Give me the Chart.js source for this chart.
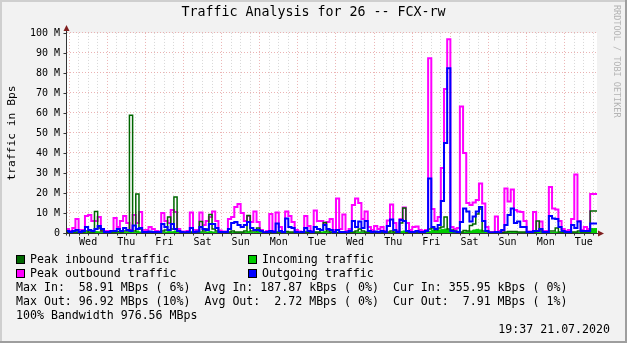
<!DOCTYPE html>
<html>
<head>
<meta charset="utf-8">
<script src="https://cdn.jsdelivr.net/npm/chart.js@4.4.0/dist/chart.umd.min.js"></script>
<style>
html,body{margin:0;padding:0;background:#f2f2f2;}
#wrap{position:relative;width:627px;height:343px;overflow:hidden;}
#wrap canvas{position:absolute;left:0;top:0;}
.t{position:absolute;font-family:'DejaVu Sans Mono',monospace;font-size:11.6px;line-height:14px;white-space:pre;color:#000;}
.sw{position:absolute;width:7px;height:7px;border:1px solid #000;}
.wm{position:absolute;left:612px;top:5px;writing-mode:vertical-rl;font-family:'DejaVu Sans Mono',monospace;font-size:8.5px;line-height:10px;color:#b4b4b4;white-space:pre;}
</style>
</head>
<body>
<div id="wrap">
<canvas id="c" width="627" height="343"></canvas>
<div class="wm">RRDTOOL / TOBI OETIKER</div>
<div class="sw" style="left:16px;top:255px;background:#006600"></div>
<div class="t" style="left:30px;top:252px">Peak inbound traffic</div>
<div class="sw" style="left:248px;top:255px;background:#00cc00"></div>
<div class="t" style="left:262px;top:252px">Incoming traffic</div>
<div class="sw" style="left:16px;top:269px;background:#ff00ff"></div>
<div class="t" style="left:30px;top:266px">Peak outbound traffic</div>
<div class="sw" style="left:248px;top:269px;background:#0000ff"></div>
<div class="t" style="left:262px;top:266px">Outgoing traffic</div>
<div class="t" style="left:16px;top:280px">Max In:  58.91 MBps ( 6%)  Avg In: 187.87 kBps ( 0%)  Cur In: 355.95 kBps ( 0%)</div>
<div class="t" style="left:16px;top:294px">Max Out: 96.92 MBps (10%)  Avg Out:  2.72 MBps ( 0%)  Cur Out:  7.91 MBps ( 1%)</div>
<div class="t" style="left:16px;top:308px">100% Bandwidth 976.56 MBps</div>
<div class="t" style="right:17px;top:322px">19:37 21.07.2020</div>
</div>
<script>
// ---- data (hours counted from the first Wednesday 00:00; 2-hour bins) ----
const FIRST_BIN_HOUR = -2;
const BIN_HOURS = 2;
const X_MIN_HOUR = -1.3;
const X_MAX_HOUR = 332.3;
const xDayLabels = ['Wed','Thu','Fri','Sat','Sun','Mon','Tue','Wed','Thu','Fri','Sat','Sun','Mon','Tue'];
const yTickLabels = ['0','10 M','20 M','30 M','40 M','50 M','60 M','70 M','80 M','90 M','100 M'];

// Peak outbound traffic (M)
const peakOut = [7.5,
  2,1,2.5,7,1.5,1.5,8.5,9,6,6,8,1,
  1,1,1,7.5,3,6,8.5,5,1.5,9,5,10.5,
  1.5,1.5,3,2,1,0.8,10,6,5,11.5,10.5,2,
  0.8,0.8,1,10.3,1.5,1.5,10.3,4,6,8,10.8,6,
  1.3,0.8,0.8,7,8,13,14.5,10,6,8.5,5.5,10.8,
  5.5,1.5,0.5,1,9.5,1,10.3,3,0.5,10.7,8.5,5.5,
  1.5,0.8,0.5,8.5,3.5,1,11.3,6,6,5,5.5,7,
  1.5,17.3,2,9.2,1,2,14,17.3,15,7,10.7,3,
  1.5,3.5,2,3,1,6.2,14.3,5,1,7,12.8,5,
  1.5,3,3.2,1.5,1,1.5,87.3,12,6,8,32.5,72,
  96.9,3,2,2.5,63.2,40,15,14,15.3,16.5,24.8,14.7,
  3,0.5,0.5,8.2,1,1,22.3,15.8,21.8,11.5,10.7,10.5,
  6,0.7,0.7,10.5,1,5.7,1,1,23,12.3,11.8,6,
  2,1,1.5,7,29.3,6,1.5,3,2,19.5];

// Outgoing traffic (M)
const avgOut = [2.5,
  1,0.5,1,1.5,0.5,1,3,1.5,1,2,3.5,2,
  0.5,0.5,1,1,2,1,2.5,1.5,1,3.7,2,2.5,
  0.5,0.5,0.8,0.5,0.5,0.5,4.5,3,1.5,4.5,2,1,
  0.5,0.3,0.5,2.5,0.5,0.8,3,2,1.5,4.5,4.5,2.5,
  0.5,0.5,0.5,2,5,5.5,4,3,4,5.5,2.5,1.5,
  1.5,1,0.3,0.5,1,0.5,4.8,1,0.5,7.3,3,2.5,
  0.5,0.3,0.5,2.5,1,0.5,3,2,1.5,4,2,1.5,
  0.5,1.5,0.5,0.5,0.3,1,6,3,5.8,2.5,6,1,
  0.5,0.8,0.5,1,0.5,3.5,6.8,1.5,0.5,6.5,6,1,
  0.5,0.5,1,0.5,0.5,1,27.3,3,2,4,16,45,
  82.3,1,0.8,0.5,5.5,12.3,10.7,5.7,8.2,10.7,13,6,
  1,0.3,0.3,0.5,0.3,1.5,4,9,12.3,5,5.7,3,
  3,0.5,0.5,1,1,2,0.5,0.5,8.5,7.3,7,3,
  1,0.5,0.5,4,2.5,5.7,1,1,1,4.8];

// Peak inbound traffic (M)
const peakIn = [0.5,
  0.3,0.3,0.5,0.5,0.3,0.5,1,0.5,0.5,10.7,2.5,1,
  0.3,0.3,0.5,0.5,0.8,0.5,1,1,58.9,1,19.5,2,
  0.3,0.3,0.5,0.3,0.3,0.5,1,1.5,8,2,18,1,
  0.3,0.3,0.3,0.5,0.3,0.5,5.7,1,2,9.3,2,1,
  0.5,0.3,0.3,0.5,1,0.5,0.5,0.5,1,8.7,1,1,
  2.5,1,0.3,0.3,0.3,0.3,0.5,0.5,0.3,0.8,0.5,0.5,
  0.3,0.3,0.3,0.5,0.3,0.3,0.5,0.5,1.5,5.2,1,0.5,
  0.3,0.3,0.3,0.3,0.3,0.5,0.5,1,2,1,0.5,0.5,
  0.5,0.3,0.3,0.5,0.3,0.5,1,0.5,0.3,5,12.5,0.5,
  0.5,0.5,0.5,0.5,0.3,1,2,2.5,1.5,2.5,3,8,
  2,1.5,1,0.5,0.5,1.3,1,3.8,4.5,9.5,12,1,
  1,0.3,0.3,0.3,0.3,0.3,0.5,0.8,0.8,0.8,0.5,0.5,
  0.5,0.3,0.3,0.5,6,1,0.5,0.3,1,1,2.5,0.5,
  0.5,0.3,0.3,0.5,0.5,1,0.5,0.5,0.5,11];

// Incoming traffic (M)
const avgIn = [0.2,
  0.1,0.1,0.2,0.2,0.1,0.2,0.3,0.2,0.2,0.8,0.6,0.3,
  0.1,0.1,0.2,0.2,0.3,0.2,0.3,0.3,1.2,0.3,1,0.5,
  0.1,0.1,0.2,0.1,0.1,0.2,0.3,0.5,0.8,0.6,1,0.3,
  0.1,0.1,0.1,0.2,0.1,0.2,0.6,0.3,0.5,0.8,0.5,0.3,
  0.2,0.1,0.1,0.2,0.3,0.2,0.2,0.2,0.3,0.8,0.3,0.3,
  0.8,0.3,0.1,0.1,0.1,0.1,0.2,0.2,0.1,0.3,0.2,0.2,
  0.1,0.1,0.1,0.2,0.1,0.1,0.2,0.2,0.5,0.8,0.3,0.2,
  0.1,0.1,0.1,0.1,0.1,0.2,0.2,0.3,0.5,0.3,0.2,0.2,
  0.2,0.1,0.1,0.2,0.1,0.2,0.3,0.2,0.1,0.8,1,0.2,
  0.2,0.2,0.2,0.2,0.1,0.3,0.8,1.5,1,1.5,1.8,2,
  1.5,1,0.8,0.3,0.3,0.5,0.5,1,1.5,1.8,1.5,0.5,
  0.3,0.1,0.1,0.1,0.1,0.1,0.2,0.3,0.3,0.3,0.2,0.2,
  0.2,0.1,0.1,0.2,0.8,0.3,0.2,0.1,0.3,0.3,0.5,0.2,
  0.2,0.1,0.1,0.2,0.2,0.3,0.2,0.2,0.3,2.2];

function series(vals){
  const pts = vals.map((v,i)=>({x: FIRST_BIN_HOUR + i*BIN_HOURS, y: v}));
  pts.push({x: X_MAX_HOUR, y: vals[vals.length-1]});
  return pts;
}

const FONT = "'DejaVu Sans Mono', monospace";
const MINOR = 'rgba(205,205,205,0.8)';
const MAJOR = 'rgba(230,160,160,0.8)';
const clipLR = {left:0, right:0, top:false, bottom:false};

const rrdFrame = {
  id: 'rrdFrame',
  beforeDraw(chart){
    const {ctx, chartArea: a, width: w, height: h} = chart;
    ctx.save();
    ctx.fillStyle = '#f2f2f2'; ctx.fillRect(0,0,w,h);
    ctx.fillStyle = '#cfcfcf'; ctx.fillRect(0,0,w,2); ctx.fillRect(0,0,2,h);
    ctx.fillStyle = '#9e9e9e'; ctx.fillRect(w-2,0,2,h); ctx.fillRect(0,h-2,w,2);
    ctx.fillStyle = '#ffffff'; ctx.fillRect(a.left, a.top, a.right-a.left, a.bottom-a.top);
    ctx.restore();
  },
  afterDatasetsDraw(chart){
    const {ctx, chartArea: a, scales} = chart;
    const ax = Math.round(a.left) - 0.5, ay = Math.round(a.bottom) + 0.5;
    ctx.save();
    ctx.strokeStyle = '#333333'; ctx.lineWidth = 1;
    ctx.beginPath();
    scales.y.ticks.forEach(t=>{
      const py = Math.round(scales.y.getPixelForValue(t.value)) + 0.5;
      const len = (t.value % 10 === 0) ? 3 : 2;
      ctx.moveTo(ax-len, py); ctx.lineTo(ax, py);
    });
    scales.x.ticks.forEach(t=>{
      const px = Math.round(scales.x.getPixelForValue(t.value)) + 0.5;
      const len = (t.value % 24 === 0) ? 3 : 2;
      ctx.moveTo(px, ay); ctx.lineTo(px, ay+len);
    });
    ctx.stroke();
    ctx.beginPath();
    ctx.moveTo(ax, ay+2); ctx.lineTo(ax, a.top-5);
    ctx.moveTo(ax-3, ay); ctx.lineTo(a.right+2, ay);
    ctx.stroke();
    ctx.fillStyle = '#801f1f';
    ctx.beginPath();
    ctx.moveTo(ax, a.top-8); ctx.lineTo(ax-3, a.top-2); ctx.lineTo(ax+3, a.top-2); ctx.closePath(); ctx.fill();
    ctx.beginPath();
    ctx.moveTo(a.right+7, ay); ctx.lineTo(a.right+1, ay-3); ctx.lineTo(a.right+1, ay+3); ctx.closePath(); ctx.fill();
    ctx.restore();
  }
};

new Chart(document.getElementById('c'), {
  type: 'line',
  data: {
    datasets: [
      {label:'Outgoing traffic', data: series(avgOut), borderColor:'#0000ff', borderWidth:2, stepped:'after', pointRadius:0, fill:false, clip: clipLR},
      {label:'Peak inbound traffic', data: series(peakIn), borderColor:'#006600', borderWidth:1.5, stepped:'after', pointRadius:0, fill:false, clip: clipLR},
      {label:'Peak outbound traffic', data: series(peakOut), borderColor:'#ff00ff', borderWidth:2, stepped:'after', pointRadius:0, fill:false, clip: clipLR},
      {label:'Incoming traffic', data: series(avgIn), borderColor:'#00cc00', backgroundColor:'#00cc00', borderWidth:1, stepped:'after', pointRadius:0, fill:'origin', clip: clipLR}
    ]
  },
  options: {
    responsive: false,
    animation: false,
    devicePixelRatio: 1,
    events: [],
    layout: {padding: {top:0, left:0, right:0, bottom:96}},
    plugins: {
      legend: {display:false},
      tooltip: {enabled:false},
      title: {display:true, text:'Traffic Analysis for 26 -- FCX-rw', color:'#000',
        font:{family:FONT, size:13.3, weight:'normal'}, padding:{top:5, bottom:12}}
    },
    scales: {
      x: {
        type:'linear', min:X_MIN_HOUR, max:X_MAX_HOUR,
        afterFit(s){ s.height = 14; },
        border:{display:false, dash:[1,2]},
        grid:{drawTicks:false, color: c => (c.tick && c.tick.value % 24 === 0) ? MAJOR : MINOR, lineWidth:1},
        ticks:{stepSize:6, includeBounds:false, autoSkip:false, maxRotation:0, minRotation:0, padding:3,
          color:'#000', font:{family:FONT, size:10},
          callback: v => (v % 24 === 12) ? xDayLabels[(v-12)/24] : ''}
      },
      y: {
        min:0, max:100,
        afterFit(s){ s.width = 67; },
        border:{display:false, dash:[1,2]},
        grid:{drawTicks:false, color: c => (c.tick && c.tick.value % 10 === 0) ? MAJOR : MINOR, lineWidth:1},
        ticks:{stepSize:5, padding:7, color:'#000', font:{family:FONT, size:10},
          callback: v => (v % 10 === 0) ? yTickLabels[v/10] : ''},
        title:{display:true, text:'traffic in Bps', color:'#000', font:{family:FONT, size:11.3, weight:'normal'}, padding:{top:5, bottom:0}}
      },
      yRight: {
        position:'right', display:true,
        afterFit(s){ s.width = 30; },
        grid:{display:false, drawTicks:false}, border:{display:false},
        ticks:{display:false}
      }
    }
  },
  plugins: [rrdFrame]
});
</script>
</body>
</html>
